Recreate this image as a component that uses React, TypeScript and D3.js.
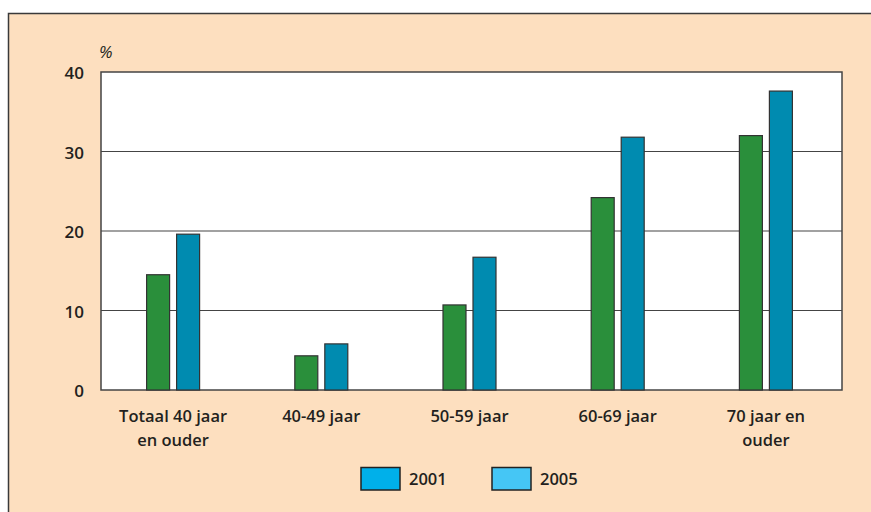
import * as d3 from "d3";
import { useEffect, useRef } from "react";

const categories = [
  ["Totaal 40 jaar", "en ouder"],
  ["40-49 jaar"],
  ["50-59 jaar"],
  ["60-69 jaar"],
  ["70 jaar en", "ouder"],
];
const years = ["2001", "2005"];
const values2001 = [14.5, 4.3, 10.7, 24.2, 32.0];
const values2005 = [19.6, 5.8, 16.7, 31.8, 37.6];
const yTicks = [0, 10, 20, 30, 40];

const barColors = ["#2a8f3b", "#008bb0"];
const legendColors = ["#00b0ea", "#45c6f5"];

const W = 871;
const H = 512;
const FONT = "'Open Sans', sans-serif";
const TEXT = "#231f20";

export default function App() {
  const svgRef = useRef<SVGSVGElement>(null);

  useEffect(() => {
    const svg = d3.select(svgRef.current);
    svg.selectAll("*").remove();
    svg.attr("width", W).attr("height", H);

    const g = svg.append("g");

    // outer peach frame
    g.append("rect")
      .attr("x", 8.5)
      .attr("y", 13.5)
      .attr("width", 900)
      .attr("height", 600)
      .attr("fill", "#fddfbf")
      .attr("stroke", "#3a3a3a")
      .attr("stroke-width", 1.5);

    const left = 101;
    const right = 842;
    const top = 72;
    const bottom = 390;

    const y = d3.scaleLinear().domain([0, 40]).range([bottom, top]);
    const x = d3
      .scaleBand<number>()
      .domain(categories.map((_, i) => i))
      .range([left - 2, right - 2]);

    g.append("rect")
      .attr("x", left)
      .attr("y", top)
      .attr("width", right - left)
      .attr("height", bottom - top)
      .attr("fill", "#fff")
      .attr("stroke", "#444")
      .attr("stroke-width", 1.5);

    // gridlines
    g.selectAll(".grid")
      .data(yTicks.filter((t) => t > 0 && t < 40))
      .enter()
      .append("line")
      .attr("x1", left)
      .attr("x2", right)
      .attr("y1", (d) => y(d))
      .attr("y2", (d) => y(d))
      .attr("stroke", "#444")
      .attr("stroke-width", 1.2);

    // y tick labels
    g.selectAll(".ytick")
      .data(yTicks)
      .enter()
      .append("text")
      .attr("x", 84)
      .attr("y", (d) => y(d) + 7)
      .attr("text-anchor", "end")
      .attr("font-family", FONT)
      .attr("font-size", 17)
      .attr("font-weight", 600)
      .attr("fill", TEXT)
      .text((d) => d);

    g.append("text")
      .attr("x", 99)
      .attr("y", 58)
      .attr("font-family", FONT)
      .attr("font-size", 17)
      .attr("font-style", "italic")
      .attr("fill", TEXT)
      .text("%");

    // bars
    const barW = 23;
    const gap = 7;
    const series = [values2001, values2005];
    series.forEach((vals, s) => {
      g.selectAll(`.bar${s}`)
        .data(vals)
        .enter()
        .append("rect")
        .attr("x", (_, i) => {
          const c = (x(i) ?? 0) + x.bandwidth() / 2;
          return s === 0 ? c - gap / 2 - barW : c + gap / 2;
        })
        .attr("y", (d) => y(d))
        .attr("width", barW)
        .attr("height", (d) => bottom - y(d))
        .attr("fill", barColors[s])
        .attr("stroke", "#333")
        .attr("stroke-width", 1.2);
    });

    // x labels
    categories.forEach((lines, i) => {
      const cx = (x(i) ?? 0) + x.bandwidth() / 2;
      const t = g
        .append("text")
        .attr("x", cx)
        .attr("y", 422)
        .attr("text-anchor", "middle")
        .attr("font-family", FONT)
        .attr("font-size", 16.5)
        .attr("font-weight", 600)
        .attr("fill", TEXT);
      lines.forEach((l, k) => {
        t.append("tspan")
          .attr("x", cx)
          .attr("dy", k === 0 ? 0 : 23.5)
          .text(l);
      });
    });

    // legend
    const legendX = [361, 492];
    years.forEach((yr, i) => {
      g.append("rect")
        .attr("x", legendX[i])
        .attr("y", 467.5)
        .attr("width", 39)
        .attr("height", 22.5)
        .attr("fill", legendColors[i])
        .attr("stroke", "#222")
        .attr("stroke-width", 1.5);
      g.append("text")
        .attr("x", legendX[i] + 48)
        .attr("y", 485)
        .attr("font-family", FONT)
        .attr("font-size", 16.5)
        .attr("font-weight", 600)
        .attr("fill", TEXT)
        .text(yr);
    });
  }, []);

  return (
    <svg
      ref={svgRef}
      style={{ position: "absolute", left: 0, top: 0, display: "block" }}
    />
  );
}
